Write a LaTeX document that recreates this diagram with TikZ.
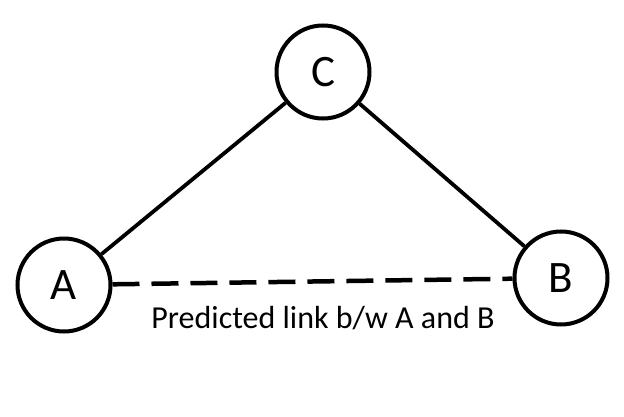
\documentclass[tikz,border=0pt]{standalone}
\usepackage{fontspec}
\setmainfont{Carlito}
\begin{document}
\begin{tikzpicture}[x=1pt,y=-1pt,
  vertex/.style={circle,draw,line width=4pt,minimum size=93pt,inner sep=0pt,font=\fontsize{45}{48}\selectfont},
  edge/.style={line width=3.8pt},
  predicted/.style={line width=4.5pt,dash pattern=on 27pt off 12pt}]
\useasboundingbox (0,0) rectangle (624,417);
\node[vertex] (C) at (323,72) {C};
\node[vertex] (A) at (64,285) {A};
\node[vertex] (B) at (561,278) {B};
\draw[edge] (A) -- (C);
\draw[edge] (C) -- (B);
\draw[predicted] (A) -- (B);
\node[font=\fontsize{32}{36}\selectfont] (L) at (323,318) {Predicted link b/w A and B};
\end{tikzpicture}
\end{document}
